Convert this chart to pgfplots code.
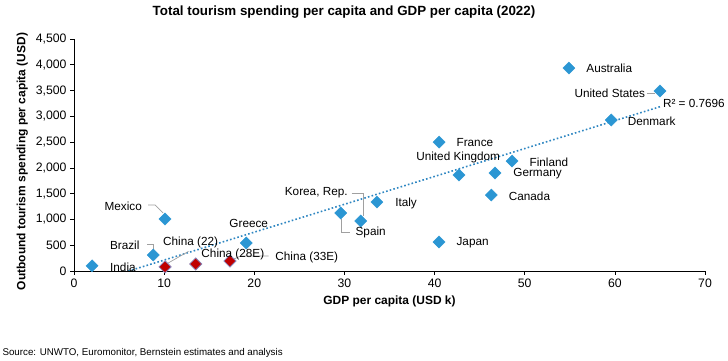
\documentclass[border=0pt]{standalone}
\usepackage{fontspec}
\setmainfont{Liberation Sans}
\usepackage{pgfplots}
\pgfplotsset{compat=1.18}
\definecolor{mblue}{HTML}{2B96D3}
\definecolor{mred}{HTML}{C00000}
\definecolor{redline}{HTML}{8A84B8}
\definecolor{tline}{HTML}{2E86C1}
\definecolor{lead}{HTML}{A0A0A0}
\tikzset{lab/.style={font=\fontsize{11.8}{13}\selectfont, inner sep=2bp}}
\begin{document}
\begin{tikzpicture}
\useasboundingbox (0,0) rectangle (728bp,361bp);
\node[font=\bfseries\fontsize{13.4}{15}\selectfont] at (344bp,349bp) {Total tourism spending per capita and GDP per capita (2022)};
\node[anchor=west, font=\fontsize{9.8}{11}\selectfont] at (-1bp,8bp) {Source: UNWTO, Euromonitor, Bernstein estimates and analysis};
\begin{axis}[
  at={(74bp,90bp)}, anchor=south west,
  scale only axis, width=631bp, height=232bp,
  xmin=0, xmax=70, ymin=0, ymax=4500,
  axis x line*=bottom, axis y line*=left,
  axis line style={black, line width=0.6bp},
  tick align=outside, major tick length=4bp,
  tick style={black, line width=0.6bp},
  xtick={0,10,...,70}, ytick={0,500,...,4500},
  scaled ticks=false,
  /pgf/number format/assume math mode=true,
  /pgf/number format/1000 sep={,},
  ticklabel style={font=\fontsize{12.3}{14}\selectfont},
  xlabel={GDP per capita (USD k)},
  ylabel={Outbound tourism spending per capita (USD)},
  label style={font=\bfseries\fontsize{12}{14}\selectfont},
  xlabel style={at={(axis description cs:0.5,-0.129)}, anchor=center},
  ylabel style={at={(axis description cs:-0.082,0.472)}, anchor=center},
  clip mode=individual,
]
% trend line
\addplot[tline, line width=1.6bp, dash pattern=on 1.6bp off 2.2bp, forget plot] coordinates {(2,-220) (65,3186)};
% leader lines
\draw[lead, line width=0.7bp] (axis cs:8.21,1280) -- (axis cs:8.99,1280) -- (axis cs:9.88,1125);
\draw[lead, line width=0.7bp] (axis cs:8.10,524) -- (axis cs:8.76,524) -- (axis cs:8.76,407);
\draw[lead, line width=0.7bp] (axis cs:12.7,380) -- (axis cs:10.4,150);
\draw[lead, line width=0.7bp] (axis cs:17.7,230) -- (axis cs:18.5,291) -- (axis cs:21.6,291);
\draw[lead, line width=0.7bp] (axis cs:30.8,1513) -- (axis cs:32.05,1513) -- (axis cs:32.05,1070);
\draw[lead, line width=0.7bp] (axis cs:30.6,756) -- (axis cs:29.7,756) -- (axis cs:29.7,1010);
\draw[lead, line width=0.7bp] (axis cs:63.6,3452) -- (axis cs:64.5,3452);
% blue markers
\addplot[only marks, mark=square*, mark size=4.3bp, mark options={rotate=45, fill=mblue, draw=mblue}] coordinates {
(2.0,100) (8.8,310) (10.1,1008) (19.1,543) (29.6,1125) (31.8,970) (33.6,1338)
(40.5,2500) (40.5,562) (42.7,1862) (46.3,1474) (46.7,1900) (48.6,2133)
(54.9,3937) (59.6,2929) (65.0,3491)};
% red markers (China)
\addplot[only marks, mark=square*, mark size=4.3bp, mark options={rotate=45, fill=mred, draw=redline, line width=0.8bp}] coordinates {
(10.1,80) (13.5,136) (17.3,194)};
% labels
\node[lab, anchor=west] at (axis cs:56.6,3937) {Australia};
\node[lab, anchor=east] at (axis cs:63.6,3452) {United States};
\node[lab, anchor=west] at (axis cs:65.1,3258) {R² = 0.7696};
\node[lab, anchor=west] at (axis cs:61.2,2909) {Denmark};
\node[lab, anchor=west] at (axis cs:42.2,2483) {France};
\node[lab, anchor=east] at (axis cs:47.5,2211) {United Kingdom};
\node[lab, anchor=west] at (axis cs:50.3,2114) {Finland};
\node[lab, anchor=west] at (axis cs:48.5,1881) {Germany};
\node[lab, anchor=west] at (axis cs:48.0,1455) {Canada};
\node[lab, anchor=west] at (axis cs:35.4,1319) {Italy};
\node[lab, anchor=west] at (axis cs:42.2,543) {Japan};
\node[lab, anchor=west] at (axis cs:31.0,756) {Spain};
\node[lab, anchor=east] at (axis cs:30.6,1513) {Korea, Rep.};
\node[lab, anchor=west] at (axis cs:17.0,931) {Greece};
\node[lab, anchor=east] at (axis cs:7.77,1261) {Mexico};
\node[lab, anchor=east] at (axis cs:7.5,504) {Brazil};
\node[lab, anchor=west] at (axis cs:9.65,562) {China (22)};
\node[lab, anchor=west] at (axis cs:13.9,330) {China (28E)};
\node[lab, anchor=west] at (axis cs:22.1,272) {China (33E)};
\node[lab, anchor=west] at (axis cs:3.77,78) {India};
\end{axis}
\end{tikzpicture}
\end{document}
